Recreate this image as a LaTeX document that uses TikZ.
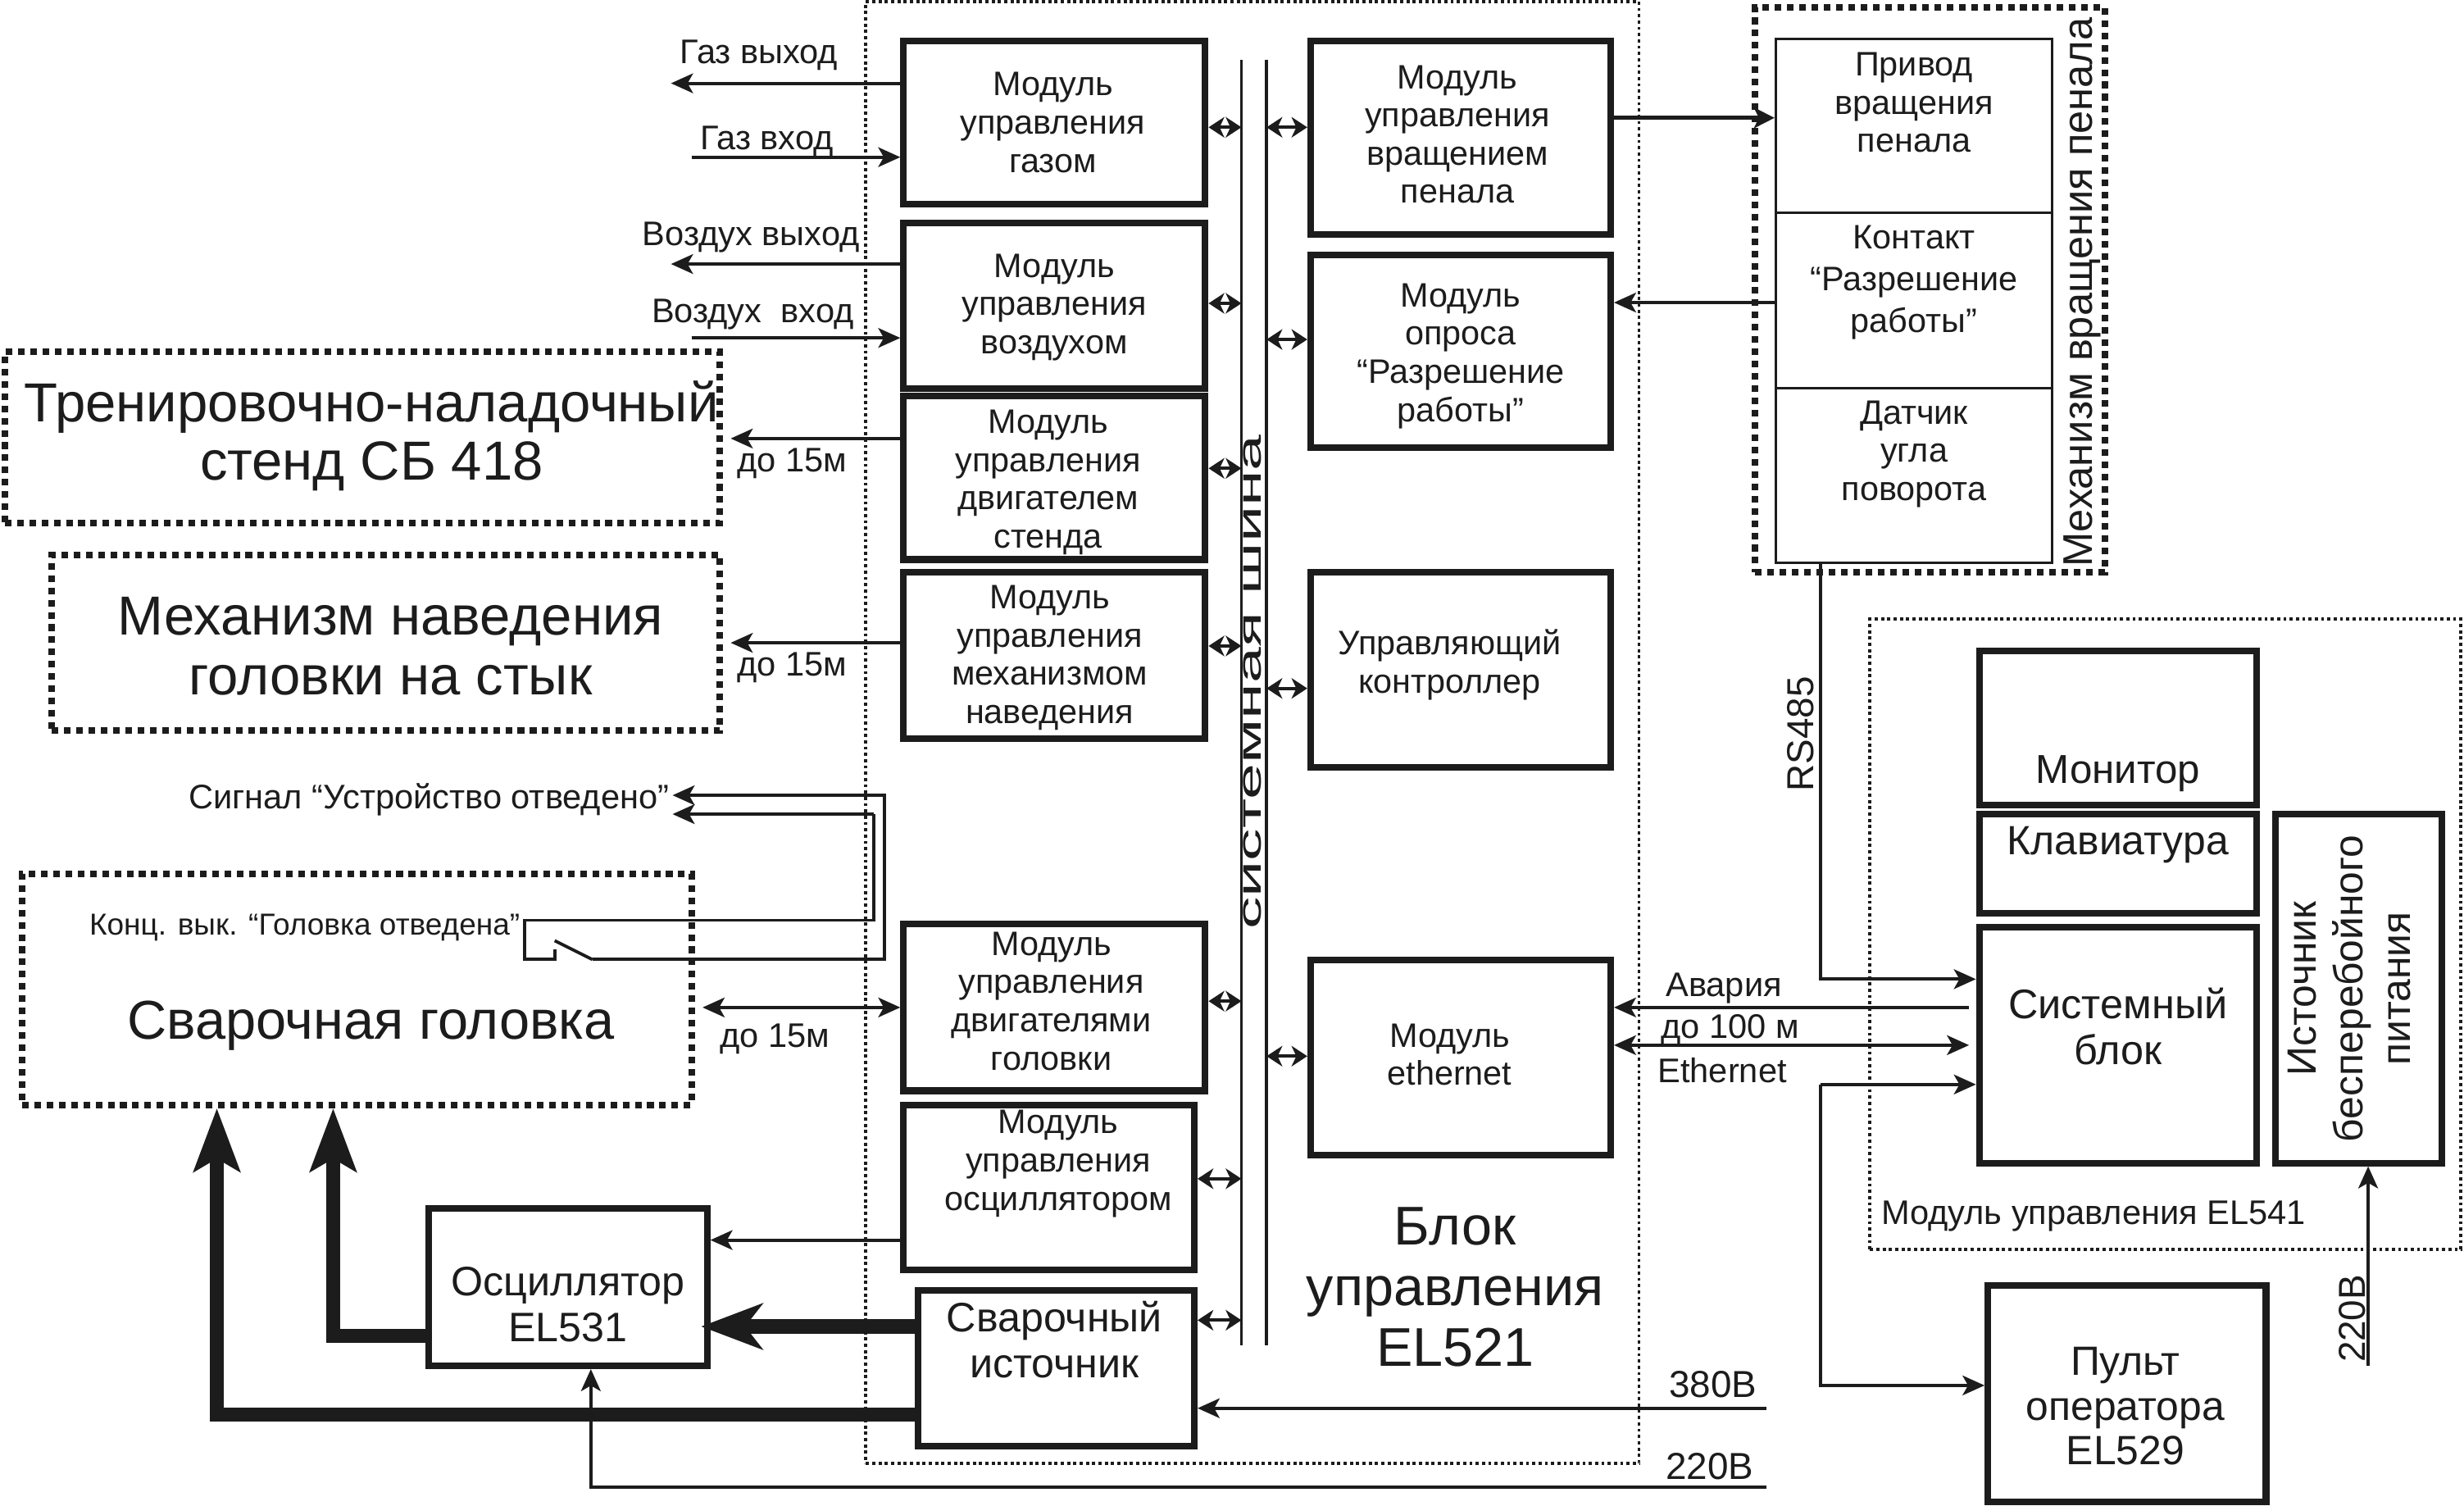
\documentclass[tikz,border=0pt]{standalone}
\usepackage{graphicx}
\usepackage{fontspec}
\setmainfont{Liberation Sans}
\usetikzlibrary{arrows.meta}
\definecolor{ink}{HTML}{1C1C1C}
\tikzset{
  every node/.style={text=ink},
  modbox/.style={draw=ink,line width=4.2pt,inner sep=0pt,fill=white},
  thinbox/.style={draw=ink,line width=1.5pt,inner sep=0pt,fill=white},
  dotbig/.style={draw=ink,line width=4.2pt,dash pattern=on 4.2pt off 3.6pt,inner sep=0pt},
  dotsmall/.style={draw=ink,line width=2pt,dash pattern=on 2pt off 2pt,inner sep=0pt},
  txt/.style={align=center,inner sep=0pt},
  fA/.style={txt,font=\fontsize{21.6}{24.3}\selectfont},
  fB/.style={txt,font=\fontsize{21.7}{24.2}\selectfont},
  fC/.style={txt,font=\fontsize{23.9}{26}\selectfont},
  wire/.style={draw=ink,line width=2pt},
  arr/.style={wire,-{Stealth[length=14pt,width=12.5pt,inset=3.5pt]}},
  biarr/.style={wire,{Stealth[length=14pt,width=12.5pt,inset=3.5pt]}-{Stealth[length=14pt,width=12.5pt,inset=3.5pt]}},
  busarr/.style={wire,{Stealth[length=10pt,width=13pt,inset=3pt]}-{Stealth[length=10pt,width=13pt,inset=3pt]}},
  power/.style={draw=ink,line width=8.5pt,-{Stealth[length=40pt,width=29pt,inset=8pt]}},
  powerh/.style={draw=ink,line width=9pt,-{Stealth[length=39pt,width=29pt,inset=11pt]}},
}
\newcommand{\bx}[8]{%
  \pgfmathsetmacro{\bxw}{#5-#3}\pgfmathsetmacro{\bxh}{#6-#4}%
  \pgfmathsetmacro{\bxcx}{(#3+#5)/2}\pgfmathsetmacro{\bxcy}{(#4+#6)/2}%
  \node[#1,minimum width=\bxw pt,minimum height=\bxh pt,label={[#7]center:{#8}}] (#2) at (\bxcx,\bxcy) {};}
\begin{document}
\begin{tikzpicture}[x=1pt,y=-1pt]
\useasboundingbox (0,0) rectangle (1568,958);
\fill[white] (0,0) rectangle (1568,958);

% dotted groups
\bx{dotsmall}{block}{551}{1}{1043}{931}{fA,font=\fontsize{34.7}{38.5}\selectfont,xshift=129pt,yshift=-353pt}{Блок\\управления\\EL521}
\bx{dotbig}{stand}{3}{224}{458}{333}{fA,font=\fontsize{35}{37}\selectfont,yshift=1pt,xshift=6pt}{Тренировочно-наладочный\\стенд СБ 418}
\bx{dotbig}{aim}{33}{353}{458}{465}{fA,font=\fontsize{35}{38}\selectfont,xshift=3pt,yshift=-2pt}{Механизм наведения\\головки на стык}
\bx{dotbig}{head}{14}{556}{440}{703}{fA,font=\fontsize{34.8}{36}\selectfont,xshift=9pt,yshift=-23pt}{Сварочная головка}
\bx{dotbig}{mech}{1117}{4.5}{1339.5}{364}{txt}{}
\bx{dotsmall}{el}{1190}{394}{1566}{795}{txt}{}

% left column modules
\bx{modbox}{gas}{575}{26}{767}{130}{fA,xshift=-1pt}{Модуль\\управления\\газом}
\bx{modbox}{air}{575}{142}{767}{247}{fA,yshift=-1pt}{Модуль\\управления\\воздухом}
\bx{modbox}{mot}{575}{252}{767}{356}{fA,xshift=-4pt,yshift=-3pt}{Модуль\\управления\\двигателем\\стенда}
\bx{modbox}{mam}{575}{364}{767}{470}{fA,xshift=-3pt,yshift=-1.5pt}{Модуль\\управления\\механизмом\\наведения}
\bx{modbox}{hmo}{575}{588}{767}{694}{fA,xshift=-2pt,yshift=4pt}{Модуль\\управления\\двигателями\\головки}
\bx{modbox}{osm}{575}{703}{760}{808}{fA,xshift=6pt,yshift=15pt}{Модуль\\управления\\осциллятором}
\bx{modbox}{wel}{584}{821}{760}{920}{fA,font=\fontsize{26.2}{29}\selectfont,xshift=-1pt,yshift=18pt}{Сварочный\\источник}

% right column modules
\bx{modbox}{rot}{834}{26}{1025}{149}{fA,xshift=-2pt,yshift=2pt}{Модуль\\управления\\вращением\\пенала}
\bx{modbox}{opr}{834}{162}{1025}{285}{fA,yshift=-3pt}{Модуль\\опроса\\“Разрешение\\работы”}
\bx{modbox}{ctl}{834}{364}{1025}{488}{fA,xshift=-7pt,yshift=3pt}{Управляющий\\контроллер}
\bx{modbox}{eth}{834}{611}{1025}{735}{fA,xshift=-7pt,yshift=2pt}{Модуль\\ethernet}

% rotation mechanism
\bx{thinbox}{drv}{1130}{25}{1306}{135.5}{fA,yshift=15pt}{Привод\\вращения\\пенала}
\bx{thinbox}{con}{1130}{135.5}{1306}{247}{fA,font=\fontsize{21.6}{26.5}\selectfont,yshift=11.5pt}{Контакт\\“Разрешение\\работы”}
\bx{thinbox}{ang}{1130}{247}{1306}{358}{fA,yshift=13.5pt}{Датчик\\угла\\поворота}

% control module
\bx{modbox}{mon}{1259.5}{414}{1436}{512}{fA,font=\fontsize{25.7}{29}\selectfont,xshift=0pt,yshift=-29pt}{Монитор}
\bx{modbox}{key}{1259.5}{518}{1436}{581}{fA,font=\fontsize{26}{29}\selectfont,xshift=0pt,yshift=12pt}{Клавиатура}
\bx{modbox}{sys}{1259.5}{590}{1436}{740}{fA,font=\fontsize{26.3}{29.5}\selectfont,yshift=12pt}{Системный\\блок}
\bx{modbox}{ups}{1448}{518}{1554}{740}{txt}{}
\node[fA,font=\fontsize{26}{30}\selectfont,rotate=90] (upst) at (1495,629) {Источник\\бесперебойного\\питания};
\bx{modbox}{pul}{1265}{818}{1442}{955.5}{fA,font=\fontsize{26}{28.5}\selectfont,xshift=-1pt,yshift=-8pt}{Пульт\\оператора\\EL529}
\bx{modbox}{osc}{273}{769}{450}{869}{fA,font=\fontsize{26.2}{29.5}\selectfont,xshift=0pt,yshift=-11pt}{Осциллятор\\EL531}

% labels
\node[txt,font=\fontsize{26.4}{26}\selectfont,rotate=90] (mechl) at (1325,186) {Механизм вращения пенала};
\node[txt,font=\fontsize{21}{21}\selectfont,rotate=90] (busl) at (797,434) {\scalebox{1.96}[1]{системная шина}};
\node[fB] (l1) at (483,35) {Газ выход};
\node[fB] (l2) at (488,90) {Газ вход};
\node[fB] (l3) at (478,151) {Воздух выход};
\node[fB] (l4) at (479,200) {Воздух \ вход};
\node[fB] (l5) at (504,295) {до 15м};
\node[fB] (l6) at (504,425) {до 15м};
\node[fB,anchor=east] (l7) at (426,509) {Сигнал “Устройство отведено”};
\node[txt,font=\fontsize{19.3}{21}\selectfont,anchor=east] (l8) at (331,590) {Конц. вык. “Головка отведена”};
\node[fB] (l9) at (493,661) {до 15м};
\node[fC,rotate=90] (l10) at (1146,467) {RS485};
\node[fB] (l11) at (1097,629) {Авария};
\node[fB] (l12) at (1101,655) {до 100 м};
\node[fB] (l13) at (1096,681) {Ethernet};
\node[fB,anchor=west] (l14) at (1197,774) {Модуль управления EL541};
\node[fC] (l15) at (1090,881) {380В};
\node[fC] (l16) at (1088,933) {220В};
\node[fC,rotate=90] (l17) at (1497,839) {220В};

% free ends
\coordinate (gasout) at (427,53);
\coordinate (gasin) at (440,100);
\coordinate (airout) at (427,168);
\coordinate (airin) at (440,215);
\coordinate (standin) at (465,279);
\coordinate (aimin) at (465,409);
\coordinate (sig1) at (428,506);
\coordinate (sig2) at (428,518);
\coordinate (swa) at (334,585.5);
\coordinate (swb) at (334,610.5);
\coordinate (swc) at (353,610.5);
\coordinate (swd) at (353,604);
\coordinate (swe) at (353,598.5);
\coordinate (swf) at (377,610.5);
\coordinate (v380) at (1124,896);
\coordinate (v220) at (1124,946);
\coordinate (v220b) at (1507,869);
\coordinate (busL) at (790,0);
\coordinate (busR) at (806,0);

% system bus
\draw[wire] (790,38) -- (790,856);
\draw[wire] (806,38) -- (806,856);

% bus connections
\draw[busarr] (gas.east |- 0,81) -- (busL |- 0,81);
\draw[busarr] (air.east |- 0,193) -- (busL |- 0,193);
\draw[busarr] (mot.east |- 0,298) -- (busL |- 0,298);
\draw[busarr] (mam.east |- 0,411) -- (busL |- 0,411);
\draw[busarr] (hmo.east |- 0,637) -- (busL |- 0,637);
\draw[busarr] (osm.east |- 0,750) -- (busL |- 0,750);
\draw[busarr] (wel.east |- 0,840) -- (busL |- 0,840);
\draw[busarr] (busR |- 0,81) -- (rot.west |- 0,81);
\draw[busarr] (busR |- 0,216) -- (opr.west |- 0,216);
\draw[busarr] (busR |- 0,438) -- (ctl.west |- 0,438);
\draw[busarr] (busR |- 0,672) -- (eth.west |- 0,672);

% left side connections
\draw[arr] (gas.west |- gasout) -- (gasout);
\draw[arr] (gasin) -- (gas.west |- gasin);
\draw[arr] (air.west |- airout) -- (airout);
\draw[arr] (airin) -- (air.west |- airin);
\draw[arr] (mot.west |- standin) -- (standin);
\draw[arr] (mam.west |- aimin) -- (aimin);
\draw[biarr] (head.east |- 0,641) ++(5,0) -- (hmo.west |- 0,641);
\draw[arr] (osm.west |- 0,789) -- (osc.east |- 0,789);
\draw[power] (osc.west |- 0,850) -- (212,850) -- (head.south -| 212,0);
\draw[power] (wel.west |- 0,900) -- (138,900) -- (head.south -| 138,0);
\draw[powerh] (wel.west |- 0,844) -- ([xshift=-6pt]osc.east |- 0,844);
\draw[arr] (v380) -- (wel.east |- v380);
\draw[arr] (v220) -- (376,946) -- (osc.south -| 376,0);

% switch
\draw[wire,line join=miter] (swd) -- (swc) -- (swb) -- (swa) -- (556,585.5) -- (556,518);
\draw[wire] (swf) -- (swe);
\draw[arr] (556,518) -- (sig2);
\draw[arr] (swf) -- (563,610.5) -- (563,506) -- (sig1);

% right side connections
\draw[wire,line width=2.5pt,-{Stealth[length=13pt,width=13pt,inset=3pt]}] (rot.east |- 0,75) -- (drv.west |- 0,75);
\draw[arr] (con.west |- 0,192.5) -- (opr.east |- 0,192.5);
\draw[arr] (ang.south -| 1158.5,0) -- (1158.5,623) -- (sys.west |- 0,623);
\draw[arr] (1158.5,690) -- (sys.west |- 0,690);
\draw[arr] (1158.5,690) -- (1158.5,881.5) -- (pul.west |- 0,881.5);
\draw[arr] (1253,641) -- (eth.east |- 0,641);
\draw[biarr] (eth.east |- 0,665) -- (1253,665);
\draw[arr] (v220b) -- (ups.south -| 1507,0);
\end{tikzpicture}
\end{document}
